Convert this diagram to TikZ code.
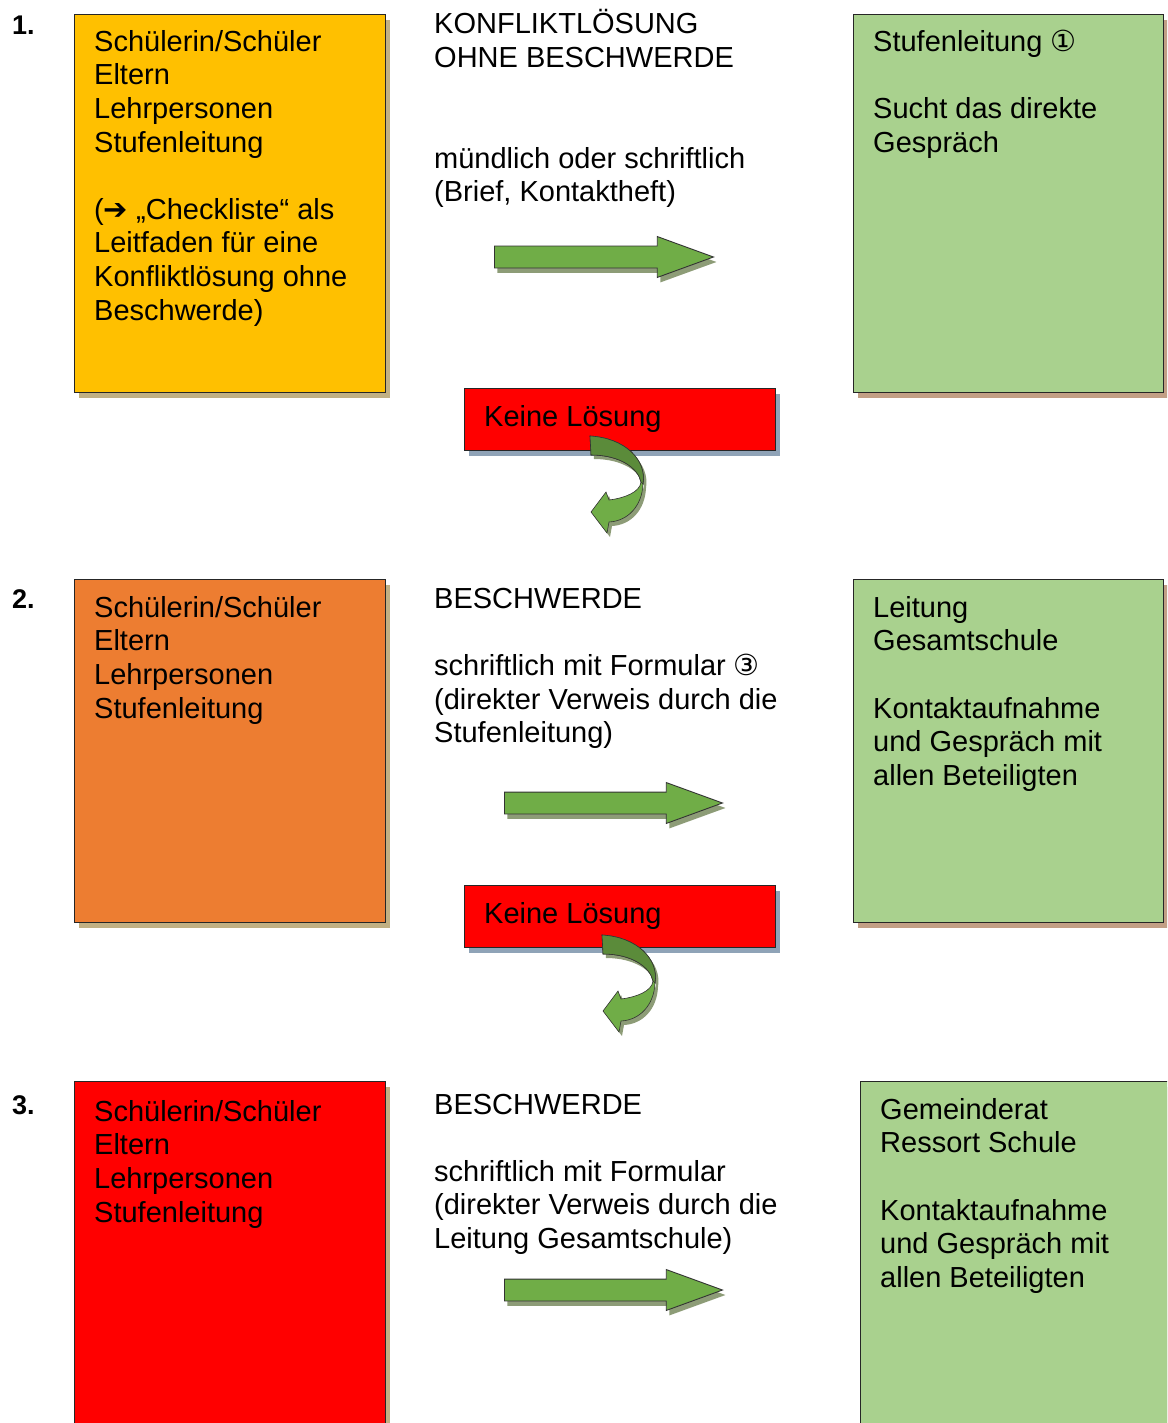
\documentclass[tikz,border=0pt]{standalone}
\usepackage{fontspec}
\setmainfont{Liberation Sans}
\newfontfamily\symfont{DejaVu Sans}
\usetikzlibrary{calc,shapes.arrows,shadows}
\definecolor{gelb}{HTML}{FFC000}
\definecolor{orangerot}{HTML}{ED7D31}
\definecolor{signalrot}{HTML}{FF0000}
\definecolor{hellgruen}{HTML}{A9D18E}
\definecolor{pfeilgruen}{HTML}{70AD47}
\definecolor{pfeildunkel}{HTML}{5B8B3A}
\definecolor{schatten}{HTML}{C1B083}
\definecolor{schattenbraun}{HTML}{C29F85}
\definecolor{schattenblau}{HTML}{8FA3B7}
\definecolor{schattengruen}{HTML}{8D9C77}
\tikzset{
  feld/.style={draw=black!85, line width=1.3pt, anchor=north west, inner sep=0pt,
               minimum width=311pt},
  quelle/.style={feld, fill=#1,
               drop shadow={shadow xshift=4pt, shadow yshift=-5pt, fill=schatten, opacity=1}},
  ziel/.style={feld, fill=hellgruen, minimum width=310pt,
               drop shadow={shadow xshift=4pt, shadow yshift=-5pt, fill=schattenbraun, opacity=1}},
  stopp/.style={feld, fill=signalrot, minimum height=62pt,
               drop shadow={shadow xshift=4pt, shadow yshift=-5pt, fill=schattenblau, opacity=1}},
  schrift/.style={anchor=north west, inner sep=0pt, align=left,
               font=\fontsize{29}{33.6}\selectfont,
               execute at begin node=\rule{0pt}{30pt}},
  nummer/.style={anchor=base west, inner sep=0pt, font=\fontsize{27}{30}\selectfont\bfseries},
  blockpfeil/.style={single arrow, draw=black!80, line width=0.9pt, fill=pfeilgruen,
               anchor=tail, inner sep=0pt, text height=10.5pt, text depth=10.5pt,
               minimum width=40pt, single arrow head extend=9.5pt,
               single arrow tip angle=40, single arrow head indent=0pt,
               drop shadow={shadow xshift=3pt, shadow yshift=-5pt, fill=schattengruen, opacity=1}},
  umkehrform/.style={insert path={(0,0) .. controls (35,2) and (57,24) .. (53,48)
               .. controls (52,70) and (38,85) .. (19,86) -- (17,97) -- (1,76) -- (16,56)
               -- (19,64) .. controls (35,62) and (50,56) .. (51,46)
               .. controls (48,32) and (30,19) .. (1,19) -- cycle}},
  umkehr/.pic={
    \fill[schattengruen, shift={(3,4)}, umkehrform];
    \filldraw[fill=pfeilgruen, draw=black!80, line width=0.6pt, umkehrform];
    \filldraw[fill=pfeildunkel, draw=black!80, line width=0.6pt]
      (0,0) .. controls (35,2) and (57,24) .. (53,48) -- (51,46)
      .. controls (48,32) and (30,19) .. (1,19) -- cycle;
  },
}
\begin{document}
\begin{tikzpicture}[x=1pt,y=-1pt]
  \useasboundingbox (0,0) rectangle (1167,1423);
  \clip (0,0) rectangle (1167,1423);

  % Stufe 1
  \node[nummer] (nr1) at (12,35) {1.};
  \node[quelle=gelb, minimum height=378pt] (quelle1) at (74,14) {};
  \node[schrift] (wer1) at ($(quelle1.north west)+(20,16)$)
    {Schülerin/Schüler\\Eltern\\Lehrpersonen\\Stufenleitung\\[33.6pt]({\symfont ➔} „Checkliste“ als\\Leitfaden für eine\\Konfliktlösung ohne\\Beschwerde)};
  \node[schrift] (titel1) at (434,9) {KONFLIKTLÖSUNG\\OHNE BESCHWERDE};
  \node[schrift] (weg1) at (434,147) {mündlich oder schriftlich\\(Brief, Kontaktheft)};
  \node[blockpfeil, minimum height=219pt] (pfeil1) at (494,257) {};
  \node[ziel, minimum height=378pt] (ziel1) at (853,14) {};
  \node[schrift] (wen1) at ($(ziel1.north west)+(20,16)$)
    {Stufenleitung {\symfont ①}\\[33.6pt]Sucht das direkte\\Gespräch};
  \node[stopp] (stopp1) at (464,388) {};
  \node[schrift] (keine1) at ($(stopp1.north west)+(20,8)$) {Keine Lösung};
  \pic at ($(stopp1.north west)+(126,48)$) {umkehr};

  % Stufe 2
  \node[nummer] (nr2) at (12,608) {2.};
  \node[quelle=orangerot, minimum height=343pt] (quelle2) at (74,579) {};
  \node[schrift] (wer2) at ($(quelle2.north west)+(20,17)$)
    {Schülerin/Schüler\\Eltern\\Lehrpersonen\\Stufenleitung};
  \node[schrift] (titel2) at (434,578) {BESCHWERDE};
  \node[schrift] (weg2) at (434,654)
    {schriftlich mit Formular {\symfont ③}\\(direkter Verweis durch die\\Stufenleitung)};
  \node[blockpfeil, minimum height=218pt] (pfeil2) at (504,803) {};
  \node[ziel, minimum height=343pt] (ziel2) at (853,579) {};
  \node[schrift] (wen2) at ($(ziel2.north west)+(20,17)$)
    {Leitung\\Gesamtschule\\[33.6pt]Kontaktaufnahme\\und Gespräch mit\\allen Beteiligten};
  \node[stopp] (stopp2) at (464,885) {};
  \node[schrift] (keine2) at ($(stopp2.north west)+(20,8)$) {Keine Lösung};
  \pic at ($(stopp2.north west)+(138,50)$) {umkehr};

  % Stufe 3
  \node[nummer] (nr3) at (12,1114) {3.};
  \node[quelle=signalrot, minimum height=400pt] (quelle3) at (74,1081) {};
  \node[schrift] (wer3) at ($(quelle3.north west)+(20,19)$)
    {Schülerin/Schüler\\Eltern\\Lehrpersonen\\Stufenleitung};
  \node[schrift] (titel3) at (434,1084) {BESCHWERDE};
  \node[schrift] (weg3) at (434,1160)
    {schriftlich mit Formular\\(direkter Verweis durch die\\Leitung Gesamtschule)};
  \node[blockpfeil, minimum height=218pt] (pfeil3) at (504,1290) {};
  \node[ziel, minimum width=330pt, minimum height=400pt] (ziel3) at (860,1081) {};
  \node[schrift] (wen3) at ($(ziel3.north west)+(20,17)$)
    {Gemeinderat\\Ressort Schule\\[33.6pt]Kontaktaufnahme\\und Gespräch mit\\allen Beteiligten};
\end{tikzpicture}
\end{document}
